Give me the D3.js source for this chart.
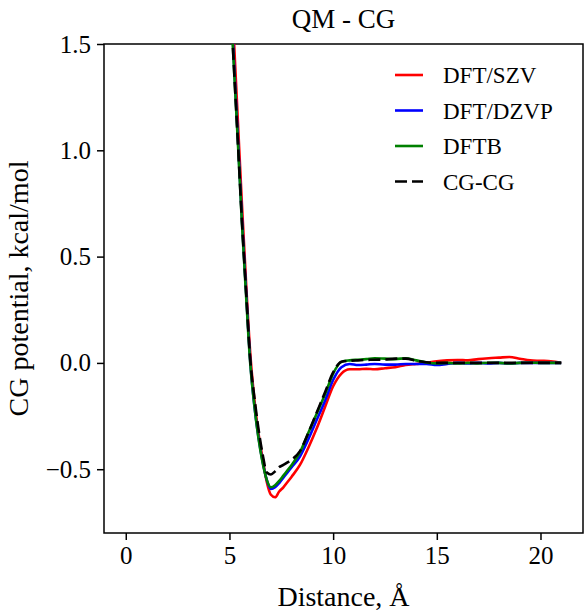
<!DOCTYPE html>
<meta charset="utf-8">
<script src="https://d3js.org/d3.v7.min.js"></script>
<style>
  body { margin: 0; background: #fff; }
  text { font-family: "Liberation Serif", "DejaVu Serif", serif; fill: #000; }
</style>
<div id="my_dataviz"></div>
<script>

    // distances (Angstrom) shared by all curves
    var dist = [4.6, 4.8, 5.0, 5.2, 5.4, 5.6, 5.8, 6.0, 6.2, 6.4, 6.6, 6.8, 7.0, 7.2, 7.4, 7.6, 7.8, 8.0,
                8.4, 8.8, 9.2, 9.6, 10.0, 10.4, 10.8, 11.2, 11.6, 12.0, 12.5, 13.0, 13.5, 14.0, 14.5,
                15.0, 15.5, 16.0, 16.5, 17.0, 17.5, 18.0, 18.5, 19.0, 19.5, 20.0, 20.5, 21.0];

    var dftSzv = [2.8, 2.4, 1.95, 1.55, 1.15, 0.75, 0.38, 0.05, -0.17, -0.33, -0.45, -0.56, -0.62, -0.632, -0.605, -0.585, -0.56, -0.535,
                  -0.48, -0.40, -0.31, -0.21, -0.11, -0.05, -0.03, -0.03, -0.028, -0.03, -0.025, -0.02, -0.01,
                  -0.005, 0.0, 0.008, 0.012, 0.014, 0.012, 0.018, 0.022, 0.025, 0.028, 0.02, 0.012, 0.01, 0.008, 0.0];

    var dftDzvp = [2.65, 2.25, 1.85, 1.45, 1.07, 0.68, 0.34, 0.01, -0.2, -0.35, -0.465, -0.55, -0.593, -0.585, -0.565, -0.54, -0.515, -0.49,
                   -0.44, -0.36, -0.27, -0.18, -0.08, -0.02, -0.005, -0.01, -0.008, -0.005, -0.008, -0.008, -0.005,
                   -0.005, -0.005, -0.01, -0.005, 0.0, -0.002, 0.0, -0.002, 0.0, -0.003, 0.0, 0.0, 0.0, 0.0, 0.0];

    var dftb = [2.6, 2.2, 1.8, 1.42, 1.05, 0.66, 0.32, 0.0, -0.2, -0.355, -0.47, -0.55, -0.585, -0.575, -0.555, -0.53, -0.505, -0.48,
                -0.42, -0.33, -0.24, -0.15, -0.05, 0.005, 0.012, 0.015, 0.018, 0.022, 0.02, 0.018, 0.022,
                0.012, 0.002, -0.002, 0.0, -0.003, 0.0, -0.002, 0.001, 0.0, -0.002, 0.0, 0.001, 0.0, 0.0, 0.0];

    var cgcg = [2.6, 2.2, 1.8, 1.42, 1.05, 0.67, 0.34, 0.02, -0.16, -0.31, -0.43, -0.515, -0.525, -0.51, -0.49, -0.48, -0.468, -0.455,
                -0.415, -0.33, -0.235, -0.14, -0.045, 0.005, 0.01, 0.012, 0.014, 0.015, 0.016, 0.02, 0.02,
                0.01, 0.003, 0.0, 0.0, 0.0, 0.0, 0.0, 0.0, 0.0, 0.0, 0.0, 0.0, 0.0, 0.0, 0.0];

    var seriesNames = ["DFT/SZV", "DFT/DZVP", "DFTB", "CG-CG"];
    var seriesValues = [dftSzv, dftDzvp, dftb, cgcg];
    var seriesColors = ["#ff0000", "#0000ff", "#008000", "#000000"];

    var xTicks = [0, 5, 10, 15, 20];
    var yTicks = [-0.5, 0.0, 0.5, 1.0, 1.5];

    // set the dimensions and margins of the graph
    var margin = {top: 44, right: 2, bottom: 78, left: 104},
        width = 585 - margin.left - margin.right,
        height = 611 - margin.top - margin.bottom;

    var svg = d3.select("#my_dataviz")
      .append("svg")
        .attr("width", 585)
        .attr("height", 611)
      .append("g")
        .attr("transform", "translate(" + margin.left + "," + margin.top + ")");

    var x = d3.scaleLinear()
      .domain([-1.05, 22.05])
      .range([0, width]);

    var y = d3.scaleLinear()
      .domain([-0.8, 1.5])
      .range([height, 0]);

    svg.append("clipPath")
        .attr("id", "clip")
      .append("rect")
        .attr("width", width)
        .attr("height", height);

    // X axis
    var xAxis = svg.append("g")
      .attr("transform", "translate(0," + height + ")")
      .call(d3.axisBottom(x).tickValues(xTicks).tickFormat(d3.format("d")).tickSizeOuter(0).tickSize(7).tickPadding(6));

    // Y axis
    var yAxis = svg.append("g")
      .call(d3.axisLeft(y).tickValues(yTicks).tickFormat(function (d) { return d3.format(".1f")(d).replace("-", "\u2212"); })
        .tickSizeOuter(0).tickSize(7).tickPadding(6));

    [xAxis, yAxis].forEach(function (a) {
      a.select(".domain").remove();
      a.selectAll("line").attr("stroke", "#000").attr("stroke-width", 1.5);
      a.selectAll("text").attr("font-size", 25).attr("font-family", "Liberation Serif");
    });

    // frame
    svg.append("rect")
      .attr("width", width)
      .attr("height", height)
      .attr("fill", "none")
      .attr("stroke", "#000")
      .attr("stroke-width", 1.5);

    // curves
    var line = d3.line()
      .curve(d3.curveMonotoneX)
      .x(function (d) { return x(d[0]); })
      .y(function (d) { return y(d[1]); });

    var plot = svg.append("g").attr("clip-path", "url(#clip)");

    seriesValues.forEach(function (vals, i) {
      plot.append("path")
        .datum(dist.map(function (d, j) { return [d, vals[j]]; }))
        .attr("fill", "none")
        .attr("stroke", seriesColors[i])
        .attr("stroke-width", 2.6)
        .attr("stroke-linejoin", "round")
        .attr("stroke-dasharray", seriesNames[i] === "CG-CG" ? "12,5" : null)
        .attr("d", line);
    });

    // legend
    var legend = svg.append("g")
      .attr("transform", "translate(" + (395 - margin.left) + "," + (75 - margin.top) + ")");

    seriesNames.forEach(function (name, i) {
      var row = legend.append("g").attr("transform", "translate(0," + (i * 35.5) + ")");
      row.append("line")
        .attr("x1", 0).attr("x2", 28)
        .attr("stroke", seriesColors[i])
        .attr("stroke-width", 2.6)
        .attr("stroke-dasharray", name === "CG-CG" ? "12,5" : null);
      row.append("text")
        .attr("x", 48)
        .attr("dy", "0.35em")
        .attr("font-size", 23)
        .text(name);
    });

    // title and labels
    svg.append("text")
      .attr("x", width / 2)
      .attr("y", -16)
      .attr("text-anchor", "middle")
      .attr("font-size", 27)
      .text("QM - CG");

    svg.append("text")
      .attr("x", width / 2)
      .attr("y", height + 73)
      .attr("text-anchor", "middle")
      .attr("font-size", 28)
      .text("Distance, \u00C5");

    svg.append("text")
      .attr("transform", "rotate(-90)")
      .attr("x", -height / 2)
      .attr("y", -76)
      .attr("text-anchor", "middle")
      .attr("font-size", 28)
      .text("CG potential, kcal/mol");

</script>
